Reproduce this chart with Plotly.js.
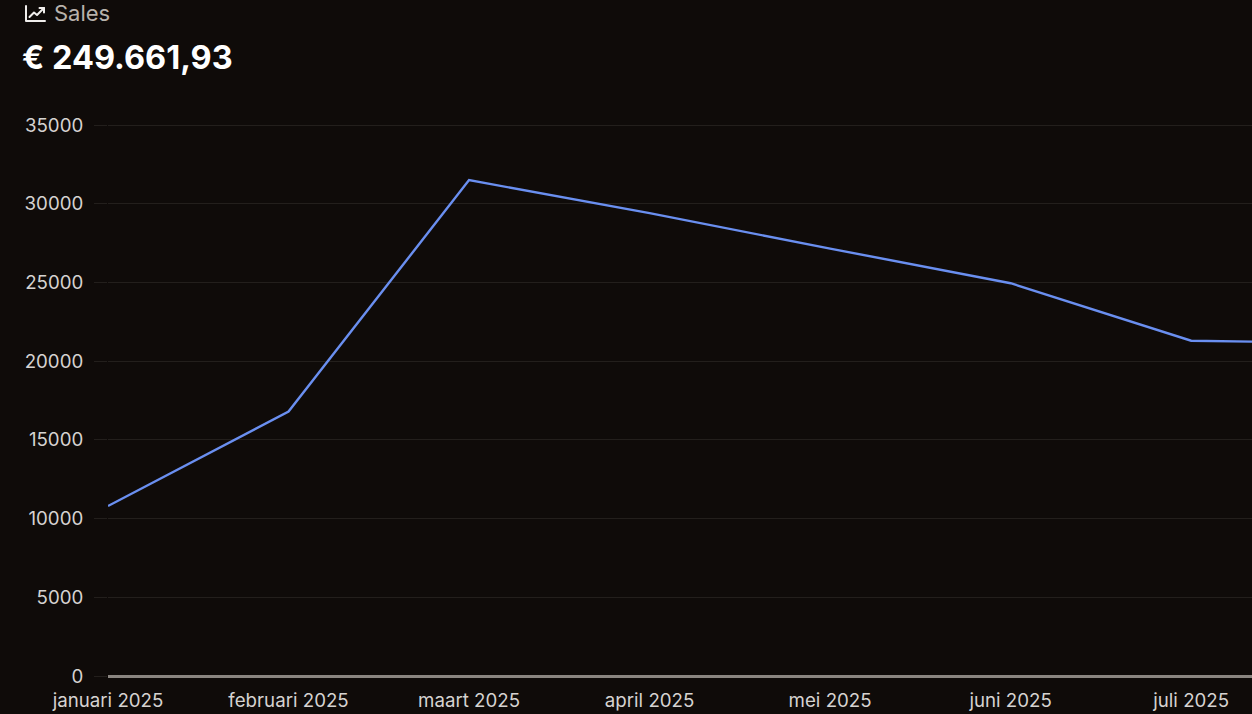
<!DOCTYPE html>
<html><head><meta charset="utf-8">
<script src="https://cdn.plot.ly/plotly-3.0.1.min.js"></script>
<style>html,body{margin:0;padding:0;background:#0f0b09;overflow:hidden}#c{width:1252px;height:714px;position:absolute;left:0;top:0}
#i{position:absolute;left:25px;top:5px;z-index:5}</style></head><body>
<div id="c"></div>
<svg id="i" width="21" height="18" viewBox="0 0 21 18" fill="none" stroke="#f0eeec" stroke-width="2" stroke-linecap="round" stroke-linejoin="round"><path d="M1 1V16H20"/><path d="M4.5 12L9 7.5L12 10L19 3"/><path d="M14.5 3H19V7.5"/></svg>
<script>
const months=['januari 2025','februari 2025','maart 2025','april 2025','mei 2025','juni 2025','juli 2025','augustus 2025'];
const sales=[10800,16800,31500,29400,27150,24950,21300,21130];
const yTicks=[0,5000,10000,15000,20000,25000,30000,35000];
const title='Sales';
const total='€ 249.661,93';
const font='Inter, sans-serif';
const bg='#0f0b09';
const marginTop=124, marginBottom=36, plotH=714-marginTop-marginBottom;
Plotly.newPlot('c',[{type:'scatter',mode:'lines',x:months,y:sales,line:{color:'#6a8ff0',width:2.4,shape:'linear'},hoverinfo:'x+y'}],{
 width:1252,height:714,paper_bgcolor:bg,plot_bgcolor:bg,showlegend:false,
 margin:{l:108,r:0,t:marginTop,b:marginBottom,pad:0},
 font:{family:font,color:'#d6d3d1',size:18.7},
 xaxis:{type:'category',categoryorder:'array',categoryarray:months,range:[0,6.337],showgrid:false,zeroline:false,showline:false,ticks:'outside',ticklen:6,tickcolor:'rgba(0,0,0,0)',tickfont:{family:font,size:18.7,color:'#d6d3d1'},automargin:false,ticklabeloverflow:'allow',tickangle:0},
 yaxis:{range:[-127,35064],tickvals:yTicks,ticktext:yTicks.map(String),gridcolor:'#231f1c',gridwidth:1,zeroline:true,zerolinecolor:'#8a8580',zerolinewidth:3,showline:false,ticks:'outside',ticklen:13,tickcolor:'#231f1c',tickwidth:1,ticklabelstandoff:7,tickfont:{family:font,size:18.7,color:'#d6d3d1'},automargin:false},
 annotations:[
  {xref:'paper',yref:'paper',x:-53/1144,y:1+(marginTop-13)/plotH,text:title,showarrow:false,font:{family:font,size:22,color:'#b8b2ac'},xanchor:'left',yanchor:'middle',xshift:-2,borderpad:0},
  {xref:'paper',yref:'paper',x:-87/1144,y:1+(marginTop-57)/plotH,text:'<b>'+total+'</b>',showarrow:false,font:{family:font,size:32.5,color:'#ffffff'},xanchor:'left',yanchor:'middle',borderpad:0}
 ]
},{displayModeBar:false,responsive:false});
</script></body></html>
